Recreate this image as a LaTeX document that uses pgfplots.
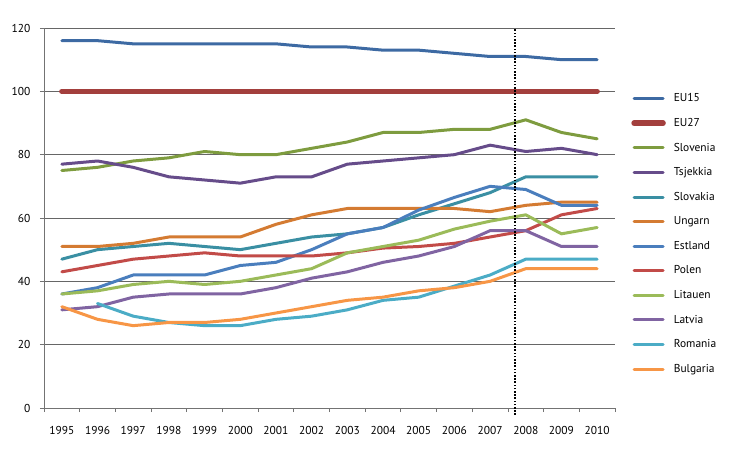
\documentclass[border=0pt]{standalone}
\usepackage{fontspec}
\setmainfont{PT Sans}
\usepackage{pgfplots}
\pgfplotsset{compat=1.18}
\definecolor{cEUf}{HTML}{3D6AA3}
\definecolor{cEUs}{HTML}{A33F3D}
\definecolor{cSlo}{HTML}{7E9C3F}
\definecolor{cTsj}{HTML}{664C8A}
\definecolor{cSlk}{HTML}{3A8FA3}
\definecolor{cUng}{HTML}{D47B32}
\definecolor{cEst}{HTML}{4A7EBD}
\definecolor{cPol}{HTML}{C24B48}
\definecolor{cLit}{HTML}{9BBB59}
\definecolor{cLat}{HTML}{8064A2}
\definecolor{cRom}{HTML}{4BACC6}
\definecolor{cBul}{HTML}{F79646}
\begin{document}
\begin{tikzpicture}
\useasboundingbox (-44bp,-46bp) rectangle (686bp,408bp);
\begin{axis}[
  scale only axis,
  width=571bp, height=380bp,
  at={(0,0)}, anchor=south west,
  xmin=-0.5, xmax=15.5,
  ymin=0, ymax=120,
  axis lines=left,
  axis line style={-, draw=black!55, line width=1pt},
  xtick={0,...,15},
  xticklabels={1995,1996,1997,1998,1999,2000,2001,2002,2003,2004,2005,2006,2007,2008,2009,2010},
  minor xtick={-0.5,0.5,...,15.5},
  ytick={0,20,...,120},
  major x tick style={draw=none},
  tick align=outside,
  major tick length=4bp, minor tick length=4bp,
  tick style={draw=black!55, line width=0.8pt},
  ymajorgrids,
  grid style={draw=black!60, line width=0.8pt},
  every tick label/.append style={font=\fontsize{11.5}{13}\selectfont},
  /pgf/number format/assume math mode=true,
  xticklabel style={yshift=-11bp},
  yticklabel style={xshift=-6bp},
  clip=false,
  legend cell align=left,
  legend style={draw=none, fill=none, at={(1.023,0.838)}, anchor=north west,
    font=\fontsize{11.5}{13}\selectfont, row sep=11bp,
    /tikz/every odd column/.append style={column sep=6bp}},
  legend image code/.code={\draw[#1] (0bp,0bp) -- (29bp,0bp);},
  every axis plot/.append style={line width=3bp, line join=round, line cap=round},
]
\addplot[cEUf] coordinates {(0,116)(1,116)(2,115)(3,115)(4,115)(5,115)(6,115)(7,114)(8,114)(9,113)(10,113)(11,112)(12,111)(13,111)(14,110)(15,110)};
\addplot[cEUs, line width=5.5bp] coordinates {(0,100)(1,100)(2,100)(3,100)(4,100)(5,100)(6,100)(7,100)(8,100)(9,100)(10,100)(11,100)(12,100)(13,100)(14,100)(15,100)};
\addplot[cSlo] coordinates {(0,75)(1,76)(2,78)(3,79)(4,81)(5,80)(6,80)(7,82)(8,84)(9,87)(10,87)(11,88)(12,88)(13,91)(14,87)(15,85)};
\addplot[cTsj] coordinates {(0,77)(1,78)(2,76)(3,73)(4,72)(5,71)(6,73)(7,73)(8,77)(9,78)(10,79)(11,80)(12,83)(13,81)(14,82)(15,80)};
\addplot[cSlk] coordinates {(0,47)(1,50)(2,51)(3,52)(4,51)(5,50)(6,52)(7,54)(8,55)(9,57)(10,61)(11,64.5)(12,68)(13,73)(14,73)(15,73)};
\addplot[cUng] coordinates {(0,51)(1,51)(2,52)(3,54)(4,54)(5,54)(6,58)(7,61)(8,63)(9,63)(10,63)(11,63)(12,62)(13,64)(14,65)(15,65)};
\addplot[cEst] coordinates {(0,36)(1,38)(2,42)(3,42)(4,42)(5,45)(6,46)(7,50)(8,55)(9,57)(10,62.5)(11,66.5)(12,70)(13,69)(14,64)(15,64)};
\addplot[cPol] coordinates {(0,43)(1,45)(2,47)(3,48)(4,49)(5,48)(6,48)(7,48)(8,49)(9,50.5)(10,51)(11,52)(12,54)(13,56)(14,61)(15,63)};
\addplot[cLit] coordinates {(0,36)(1,37)(2,39)(3,40)(4,39)(5,40)(6,42)(7,44)(8,49)(9,51)(10,53)(11,56.5)(12,59)(13,61)(14,55)(15,57)};
\addplot[cLat] coordinates {(0,31)(1,32)(2,35)(3,36)(4,36)(5,36)(6,38)(7,41)(8,43)(9,46)(10,48)(11,51)(12,56)(13,56)(14,51)(15,51)};
\addplot[cRom] coordinates {(1,33)(2,29)(3,27)(4,26)(5,26)(6,28)(7,29)(8,31)(9,34)(10,35)(11,38.5)(12,42)(13,47)(14,47)(15,47)};
\addplot[cBul] coordinates {(0,32)(1,28)(2,26)(3,27)(4,27)(5,28)(6,30)(7,32)(8,34)(9,35)(10,37)(11,38)(12,40)(13,44)(14,44)(15,44)};
\legend{EU15,EU27,Slovenia,Tsjekkia,Slovakia,Ungarn,Estland,Polen,Litauen,Latvia,Romania,Bulgaria}
\addplot[black, line width=2bp, line cap=butt, dash pattern=on 1.6bp off 1.6bp, forget plot] coordinates {(12.69,-2.2)(12.69,120)};
\end{axis}
\end{tikzpicture}
\end{document}
